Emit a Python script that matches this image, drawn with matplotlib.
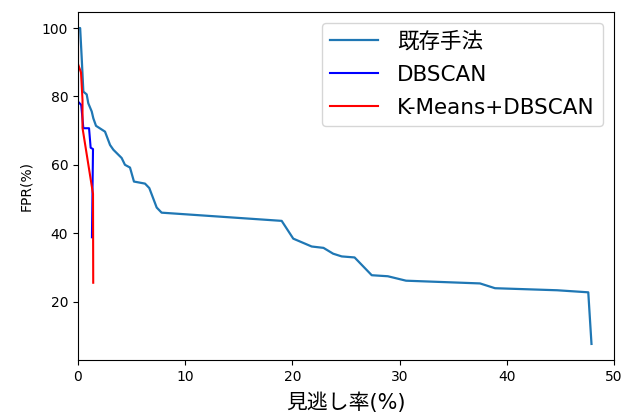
import matplotlib
matplotlib.use("Agg")
import matplotlib.pyplot as plt

# 既存手法
base_x = [0.0, 0.2, 0.34, 0.5, 0.81, 0.96, 1.28, 1.43, 1.68, 2.52, 2.99, 3.3, 4.07, 4.38, 4.85,
          5.22, 6.25, 6.65, 7.34, 7.8, 19.0, 20.08, 21.8, 22.9, 23.8, 24.6, 25.8, 27.4, 28.9,
          30.6, 37.5, 38.9, 44.7, 47.6, 47.9]
base_y = [100.0, 100.0, 91.6, 81.4, 80.6, 78.0, 75.6, 73.6, 71.4, 69.7, 65.8, 64.4, 62.0, 60.0, 59.2,
          55.1, 54.5, 53.2, 47.5, 46.0, 43.6, 38.4, 36.1, 35.7, 34.0, 33.2, 32.9, 27.7, 27.4,
          26.1, 25.3, 23.9, 23.3, 22.7, 7.6]

# DBSCAN
db_x = [0.0, 0.0, 0.3, 0.5, 1.03, 1.18, 1.4, 1.3]
db_y = [87.0, 78.5, 77.5, 70.7, 70.7, 65.0, 64.6, 38.8]

# K-Means+DBSCAN
km_x = [0.0, 0.0, 0.28, 0.42, 0.42, 1.4, 1.42]
km_y = [100.0, 89.5, 87.0, 79.0, 70.8, 51.5, 25.5]

labels = ["既存手法", "DBSCAN", "K-Means+DBSCAN"]

fam = ["DejaVu Sans", "Noto Sans CJK JP"]

fig = plt.figure(figsize=(6.4, 4.12), dpi=100)
ax = fig.add_axes([78/640, 1-360/412, (614-78)/640, (360-12)/412])
ax.plot(base_x, base_y, color="#1f77b4", lw=1.6, label=labels[0])
ax.plot(db_x, db_y, color="blue", lw=1.5, label=labels[1])
ax.plot(km_x, km_y, color="red", lw=1.5, label=labels[2])
ax.set_xlim(0, 50)
ax.set_ylim(2.9, 104.7)
ax.set_xticks([0, 10, 20, 30, 40, 50])
ax.set_yticks([20, 40, 60, 80, 100])
ax.set_xlabel("見逃し率(%)", family=fam, fontsize=15, labelpad=6)
ax.set_ylabel("FPR(%)", labelpad=6)
ax.legend(loc="upper right", prop={"family": fam, "size": 15.5}, labelspacing=0.6,
          handlelength=2.2, handletextpad=0.9)
fig.savefig("out.png", dpi=100)
